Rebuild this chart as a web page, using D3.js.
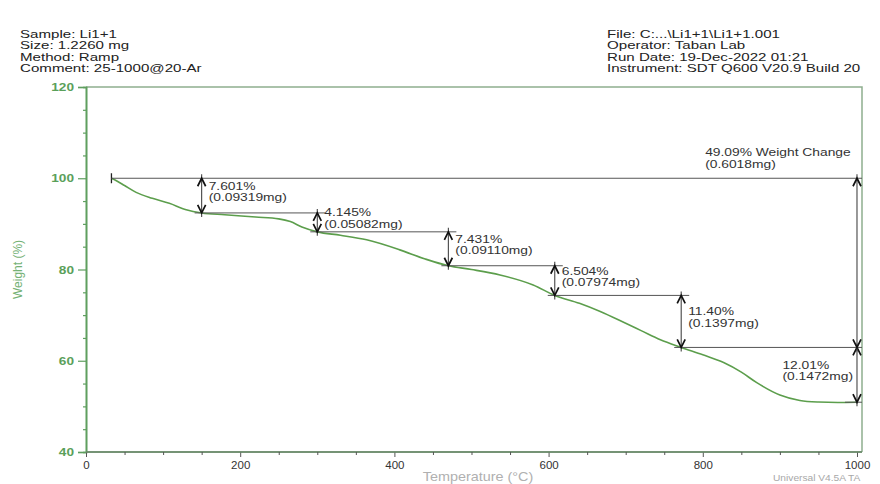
<!DOCTYPE html>
<html>
<head>
<meta charset="utf-8">
<script src="https://cdn.jsdelivr.net/npm/d3@7"></script>
<style>
  html, body { margin: 0; padding: 0; background: #fff; }
  svg { display: block; font-family: "Liberation Sans", Arial, sans-serif; }
</style>
</head>
<body>
<svg id="chart" width="880" height="484"></svg>
<script>
// Run header
const headerLeft = ["Sample: Li1+1", "Size:  1.2260 mg", "Method: Ramp", "Comment: 25-1000@20-Ar"];
const headerRight = ["File: C:...\\Li1+1\\Li1+1.001", "Operator: Taban Lab", "Run Date: 19-Dec-2022 01:21", "Instrument: SDT Q600 V20.9 Build 20"];

// TGA curve: temperature (°C) and weight (%)
const temps   = [33, 40, 50, 65, 86, 108, 130, 150, 180, 220, 250, 265, 280, 300, 330, 364, 407, 440, 470, 500, 537, 580, 608, 640, 667, 700, 720, 745, 772, 800, 827, 850, 870, 900, 926, 950, 975, 1000];
const weights = [100, 99.4, 98.4, 96.9, 95.6, 94.5, 93.1, 92.40, 92.0, 91.5, 91.1, 90.5, 89.3, 88.25, 87.5, 86.5, 84.3, 82.3, 80.82, 80.0, 78.8, 76.6, 74.32, 72.6, 70.8, 68.2, 66.6, 64.6, 62.92, 61.3, 59.6, 57.5, 55.2, 52.5, 51.3, 50.95, 50.85, 50.91];

// Step analysis: temperatures of the step markers, losses (%) and masses (mg)
const stepTemps  = [150, 300, 470, 608, 772, 1000];
const stepLoss   = [7.601, 4.145, 7.431, 6.504, 11.40, 12.01];
const stepLabels = ["7.601%", "4.145%", "7.431%", "6.504%", "11.40%", "12.01%"];
const stepMass   = ["(0.09319mg)", "(0.05082mg)", "(0.09110mg)", "(0.07974mg)", "(0.1397mg)", "(0.1472mg)"];
const startTemp = 33;
const startWeight = 100;
const totalLabel = "49.09% Weight Change";
const totalMass = "(0.6018mg)";

// Axis ticks
const xTicks = [0, 200, 400, 600, 800, 1000];
const yTicks = [40, 60, 80, 100, 120];

const svg = d3.select("#chart");
const SX = 1.38; // horizontal text stretch

const x = d3.scaleLinear().domain([0, 1006.5]).range([86, 862]);
const y = d3.scaleLinear().domain([40, 120]).range([452, 87]);

function stretchedText(g, px, py, str, opts = {}) {
  const t = g.append("text")
    .attr("transform", `translate(${px},${py}) scale(${opts.sx || SX},1)`)
    .attr("font-size", opts.size || 10)
    .attr("fill", opts.fill || "#333")
    .attr("text-anchor", opts.anchor || "start")
    .text(str);
  if (opts.weight) t.attr("font-weight", opts.weight);
  return t;
}

// Header text
const hdr = svg.append("g");
headerLeft.forEach((s, i) => stretchedText(hdr, 20, 37.5 + i * 11.6, s, { size: 10.8, sx: 1.4, fill: "#222" }));
headerRight.forEach((s, i) => stretchedText(hdr, 607, 37.5 + i * 11.6, s, { size: 10.8, sx: 1.4, fill: "#222" }));

// Frame (top and right)
svg.append("path")
  .attr("d", `M${x(0)},${y(120)}H${x.range()[1]}V${y(40)}`)
  .attr("fill", "none").attr("stroke", "#8fae8f").attr("stroke-width", 1.5);

// Axes
const green = "#5f9f5f";
const yAxis = svg.append("g").attr("transform", `translate(${x(0)},0)`)
  .call(d3.axisLeft(y).tickValues(yTicks).tickSize(8).tickPadding(5).tickFormat(d3.format("d")));
const yMinor = svg.append("g").attr("transform", `translate(${x(0)},0)`)
  .call(d3.axisLeft(y).tickValues(d3.range(40, 121, 5).filter(v => v % 20)).tickSize(3).tickFormat(""));
const xAxis = svg.append("g").attr("transform", `translate(0,${y(40)})`)
  .call(d3.axisBottom(x).tickValues(xTicks).tickSize(5).tickPadding(4).tickFormat(d3.format("d")));
const xMinor = svg.append("g").attr("transform", `translate(0,${y(40)})`)
  .call(d3.axisBottom(x).tickValues(d3.range(0, 1001, 50).filter(v => v % 200)).tickSize(3).tickFormat(""));

[yAxis, yMinor].forEach(g => {
  g.select(".domain").attr("stroke", green).attr("stroke-width", 1.6);
  g.selectAll(".tick line").attr("stroke", green).attr("stroke-width", 1.2);
});
[xAxis, xMinor].forEach(g => {
  g.select(".domain").attr("stroke", "#6d8d6d").attr("stroke-width", 1.4)
    .attr("d", `M${x(0)},0H${x.range()[1]}`);
  g.selectAll(".tick line").attr("stroke", "#555").attr("stroke-width", 1);
});
yAxis.selectAll(".tick text")
  .attr("x", null).attr("dy", "0.35em")
  .attr("transform", `translate(-12,0) scale(1.3,1)`)
  .attr("font-size", 10.5).attr("font-weight", "bold")
  .attr("fill", "#5aa05a").attr("font-family", "Liberation Sans, Arial, sans-serif");
xAxis.selectAll(".tick text")
  .attr("font-size", 11.5).attr("fill", "#333")
  .attr("font-family", "Liberation Sans, Arial, sans-serif");

// Axis titles and footer
svg.append("text")
  .attr("transform", `translate(22,${y(80)}) rotate(-90)`)
  .attr("text-anchor", "middle").attr("font-size", 12).attr("fill", "#74b174")
  .text("Weight (%)");
stretchedText(svg, 478, 481, "Temperature (°C)", { size: 12, fill: "#b0b0b0", anchor: "middle", sx: 1.2 });
stretchedText(svg, 773, 481, "Universal V4.5A TA", { size: 8.5, fill: "#a8a8a8", sx: 1.2 });

// Weight curve
svg.append("path")
  .datum(temps.map((t, i) => [t, weights[i]]))
  .attr("fill", "none").attr("stroke", "#5c9e4c").attr("stroke-width", 1.6)
  .attr("d", d3.line().x(d => x(d[0])).y(d => y(d[1])).curve(d3.curveMonotoneX));

// Step levels derived from the stated losses
const levels = [startWeight];
stepLoss.forEach((l, i) => levels.push(levels[i] - l));

const ann = svg.append("g");
const lineColor = "#555";
const xEnd = x.range()[1];

// Start marker and the 100 % reference line
ann.append("line")
  .attr("x1", x(startTemp)).attr("x2", x(startTemp))
  .attr("y1", y(startWeight) - 5).attr("y2", y(startWeight) + 5)
  .attr("stroke", "#222").attr("stroke-width", 1.3);
ann.append("line")
  .attr("x1", x(startTemp)).attr("x2", xEnd)
  .attr("y1", y(startWeight)).attr("y2", y(startWeight))
  .attr("stroke", lineColor).attr("stroke-width", 1);

// Horizontal level lines after each step
stepTemps.forEach((t, i) => {
  const lv = levels[i + 1];
  const last = i === stepTemps.length - 1;
  const x1 = last ? x(t) - 12 : x(t) - 7;
  const x2 = i < stepTemps.length - 2 ? x(stepTemps[i + 1]) + 8 : xEnd;
  ann.append("line")
    .attr("x1", x1).attr("x2", x2)
    .attr("y1", y(lv)).attr("y2", y(lv))
    .attr("stroke", lineColor).attr("stroke-width", 1);
});

function doubleArrow(px, yTop, yBot) {
  const head = 8, half = 4;
  ann.append("line")
    .attr("x1", px).attr("x2", px).attr("y1", yTop - 4).attr("y2", yBot + 4)
    .attr("stroke", "#444").attr("stroke-width", 1.1);
  ann.append("path")
    .attr("d", `M${px - half},${yTop + head}L${px},${yTop}L${px + half},${yTop + head}` +
               `M${px - half},${yBot - head}L${px},${yBot}L${px + half},${yBot - head}`)
    .attr("fill", "none").attr("stroke", "#111").attr("stroke-width", 1.7);
}

// Step arrows and labels
stepTemps.forEach((t, i) => {
  const px = x(t);
  const yTop = y(levels[i]);
  const yBot = y(levels[i + 1]);
  doubleArrow(px, yTop, yBot);
  const mid = (yTop + yBot) / 2;
  const g = ann.append("g");
  stretchedText(g, 0, mid - 6, stepLabels[i]);
  stretchedText(g, 0, mid + 5.5, stepMass[i]);
  if (i === stepTemps.length - 1) {
    const w = g.node().getBBox().width;
    g.attr("transform", `translate(${px - 4 - w},0)`);
  } else {
    g.attr("transform", `translate(${px + 7},0)`);
  }
});

// Total weight change arrow
const totalTop = y(levels[0]);
const totalBot = y(levels[levels.length - 2]);
doubleArrow(x(1000), totalTop, totalBot);
const tg = ann.append("g");
stretchedText(tg, 0, totalTop - 22, totalLabel);
stretchedText(tg, 0, totalTop - 10, totalMass);
const tw = tg.node().getBBox().width;
tg.attr("transform", `translate(${x(1000) - 6 - tw},0)`);
</script>
</body>
</html>
